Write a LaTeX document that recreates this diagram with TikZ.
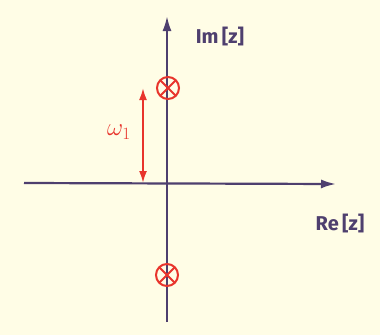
\documentclass[tikz,border=0pt]{standalone}
\usepackage{fontspec}
\setmainfont{Fira Sans}
\usetikzlibrary{arrows.meta}
\definecolor{paper}{HTML}{FFFDE6}
\definecolor{axiscol}{HTML}{4E3F6E}
\definecolor{redink}{HTML}{E8342C}
\tikzset{
  axis/.style={draw=axiscol, line width=2.2pt, -{Latex[length=15pt,width=9pt]}},
  zero/.style={circle, draw=redink, line width=2pt, minimum size=22pt, inner sep=0pt},
  xmark/.style={draw=redink, line width=2pt, shorten >=1.5pt, shorten <=1.5pt},
  lbl/.style={text=axiscol, font=\bfseries\fontsize{20}{20}\selectfont},
  rlbl/.style={text=redink, font=\fontsize{26}{26}\selectfont},
  redarrow/.style={draw=redink, line width=2pt, {Latex[length=12pt,width=8pt]}-{Latex[length=12pt,width=8pt]}},
}
\begin{document}
\begin{tikzpicture}[x=1pt,y=-1pt]
\fill[paper] (0,0) rectangle (380,335);
\useasboundingbox (0,0) rectangle (380,335);
\coordinate (hl) at (24,183);
\coordinate (hr) at (336,184);
\coordinate (vb) at (167,322);
\coordinate (vt) at (167,16);
\draw[axis] (hl) -- (hr);
\draw[axis] (vb) -- (vt);
\node[zero] (z1) at (168,88) {};
\node[zero] (z2) at (167,275) {};
\draw[xmark] (z1.45) -- (z1.225);
\draw[xmark] (z1.135) -- (z1.315);
\draw[xmark] (z2.45) -- (z2.225);
\draw[xmark] (z2.135) -- (z2.315);
\coordinate (at) at (143,88);
\coordinate (ab) at (143,183);
\draw[redarrow] (ab) -- (at);
\node[rlbl] (w) at (119,132) {$\omega_1$};
\node[lbl] (im) at (220,36) {Im\,[z]};
\node[lbl] (re) at (340,223) {Re\,[z]};
\end{tikzpicture}
\end{document}
